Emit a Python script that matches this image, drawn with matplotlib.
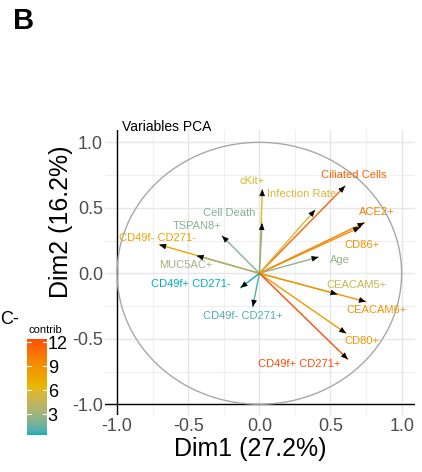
import numpy as np
import matplotlib
matplotlib.use("Agg")
import matplotlib.pyplot as plt
from matplotlib.colors import ListedColormap, Normalize, to_rgb
from matplotlib.cm import ScalarMappable

plt.rcParams['font.family'] = ['Liberation Sans', 'DejaVu Sans']

# PCA variable coordinates
variables = ['Ciliated Cells', 'cKit+', 'Infection Rate', 'Cell Death', 'TSPAN8+',
             'CD49f- CD271-', 'MUC5AC+', 'ACE2+', 'CD86+', 'Age',
             'CD49f+ CD271-', 'CD49f- CD271+', 'CEACAM5+', 'CEACAM6+', 'CD80+',
             'CD49f+ CD271+']
dim1 = [0.602, 0.021, 0.391, 0.019, -0.262, -0.703, -0.440, 0.738, 0.708, 0.415,
        -0.131, -0.046, 0.548, 0.748, 0.609, 0.621]
dim2 = [0.666, 0.641, 0.483, 0.382, 0.285, 0.218, 0.134, 0.386, 0.351, 0.124,
        -0.110, -0.255, -0.160, -0.217, -0.458, -0.656]
contrib = [11.6, 5.9, 5.6, 2.1, 2.2, 7.8, 3.1, 10.0, 9.0, 2.7,
           0.4, 1.0, 4.7, 8.7, 8.4, 12.4]

# label placement (data coords, text centre)
label_pos = [(0.666, 0.748), (-0.049, 0.707), (0.298, 0.605), (-0.211, 0.458),
             (-0.440, 0.363), (-0.714, 0.272), (-0.517, 0.061), (0.822, 0.466),
             (0.722, 0.218), (0.569, 0.104), (-0.485, -0.084), (-0.117, -0.324),
             (0.680, -0.089), (0.825, -0.282), (0.719, -0.517), (0.281, -0.695)]

cbar_ticks = [3, 6, 9, 12]
axis_ticks = [-1.0, -0.5, 0.0, 0.5, 1.0]
grad_cols = ['#00AFBB', '#E7B800', '#FC4E07']


# --- colour helpers: ggplot interpolates gradients in CIE Lab ---
WHITE = np.array([0.95047, 1.0, 1.08883])
M = np.array([[0.4124, 0.3576, 0.1805],
              [0.2126, 0.7152, 0.0722],
              [0.0193, 0.1192, 0.9505]])


def rgb2lab(rgb):
    c = np.asarray(rgb, float)
    c = np.where(c > 0.04045, ((c + 0.055) / 1.055) ** 2.4, c / 12.92)
    xyz = M @ c / WHITE
    f = np.where(xyz > 0.008856, np.cbrt(xyz), 7.787 * xyz + 16 / 116)
    return np.array([116 * f[1] - 16, 500 * (f[0] - f[1]), 200 * (f[1] - f[2])])


def lab2rgb(lab):
    L, a, b = lab
    fy = (L + 16) / 116
    f = np.array([fy + a / 500, fy, fy - b / 200])
    xyz = np.where(f ** 3 > 0.008856, f ** 3, (f - 16 / 116) / 7.787) * WHITE
    c = np.linalg.solve(M, xyz)
    c = np.where(c > 0.0031308, 1.055 * np.clip(c, 0, None) ** (1 / 2.4) - 0.055, 12.92 * c)
    return np.clip(c, 0, 1)


def lab_cmap(hexes, n=256):
    labs = [rgb2lab(to_rgb(h)) for h in hexes]
    stops = np.linspace(0, 1, len(labs))
    out = []
    for t in np.linspace(0, 1, n):
        k = min(np.searchsorted(stops, t, side='right') - 1, len(labs) - 2)
        u = (t - stops[k]) / (stops[k + 1] - stops[k])
        out.append(lab2rgb(labs[k] * (1 - u) + labs[k + 1] * u))
    return ListedColormap(out, name='contrib')


W, H = 422, 472
fig = plt.figure(figsize=(W / 100, H / 100), dpi=100)


def px_box(x0, y0, x1, y1):
    return [x0 / W, 1 - y1 / H, (x1 - x0) / W, (y1 - y0) / H]


ax = fig.add_axes(px_box(105, 130, 415, 415))
ax.set_xlim(-1.085, 1.094)
ax.set_ylim(-1.082, 1.094)
for s in ax.spines.values():
    s.set_visible(False)

# grid
for v in [-0.75, -0.25, 0.25, 0.75]:
    ax.axvline(v, color='#F0F0F0', lw=0.8, zorder=0)
    ax.axhline(v, color='#F0F0F0', lw=0.8, zorder=0)
for v in axis_ticks:
    ax.axvline(v, color='#E6E6E6', lw=1.0, zorder=0)
    ax.axhline(v, color='#E6E6E6', lw=1.0, zorder=0)
ax.axvline(-1.0, color='black', lw=1.0, zorder=1)
ax.axhline(-1.0, color='black', lw=1.0, zorder=1)

ax.set_xticks(axis_ticks)
ax.set_yticks(axis_ticks)
ax.set_xticklabels([f'{t:.1f}' for t in axis_ticks])
ax.set_yticklabels([f'{t:.1f}' for t in axis_ticks])
ax.tick_params(length=0, labelsize=13, labelcolor='#4D4D4D')
ax.tick_params(axis='x', pad=2)
ax.tick_params(axis='y', pad=1.5)

# correlation circle
th = np.linspace(0, 2 * np.pi, 400)
ax.plot(np.cos(th), np.sin(th), color='#A8A8A8', lw=1.0, zorder=1)

cmap = lab_cmap(grad_cols)
norm = Normalize(vmin=min(contrib), vmax=max(contrib))

for name, x, y, c, (lx, ly) in zip(variables, dim1, dim2, contrib, label_pos):
    col = cmap(norm(c))
    ax.plot([0, x], [0, y], color=col, lw=1.0, zorder=2)
    d = np.hypot(x, y)
    ux, uy = x / d, y / d
    ax.annotate('', xy=(x, y), xytext=(x - 0.03 * ux, y - 0.03 * uy),
                arrowprops=dict(arrowstyle='-|>,head_length=0.4,head_width=0.17',
                                color='black', lw=0.5, shrinkA=0, shrinkB=0,
                                mutation_scale=10), zorder=3)
    ax.text(lx, ly, name, color=col, fontsize=8, ha='center', va='center', zorder=4)

fig.text(122 / W, 1 - 127 / H, 'Variables PCA', fontsize=10, ha='left', va='center')
fig.text(250 / W, 1 - 449 / H, 'Dim1 (27.2%)', fontsize=18, ha='center', va='center')
fig.text(61 / W, 1 - 222 / H, 'Dim2 (16.2%)', fontsize=18, ha='center', va='center',
         rotation=90)
fig.text(13 / W, 1 - 21 / H, 'B', fontsize=21, fontweight='bold', ha='left', va='center')
fig.text(0 / W, 1 - 320 / H, 'C-', fontsize=13, ha='left', va='center')

# colour bar
cax = fig.add_axes(px_box(27, 339, 47, 435))
cb = fig.colorbar(ScalarMappable(norm=norm, cmap=cmap), cax=cax)
cb.outline.set_visible(False)
cb.set_ticks(cbar_ticks)
cb.set_ticklabels([str(t) for t in cbar_ticks])
cax.tick_params(length=0, labelsize=13, pad=0.5, labelcolor='black')
for t in cbar_ticks:
    cax.plot([0, 0.22], [t, t], color='white', lw=0.8, transform=cax.get_yaxis_transform())
    cax.plot([0.78, 1], [t, t], color='white', lw=0.8, transform=cax.get_yaxis_transform())
fig.text(45 / W, 1 - 330 / H, 'contrib', fontsize=8, ha='center', va='center')

fig.savefig('out.png', dpi=100)
